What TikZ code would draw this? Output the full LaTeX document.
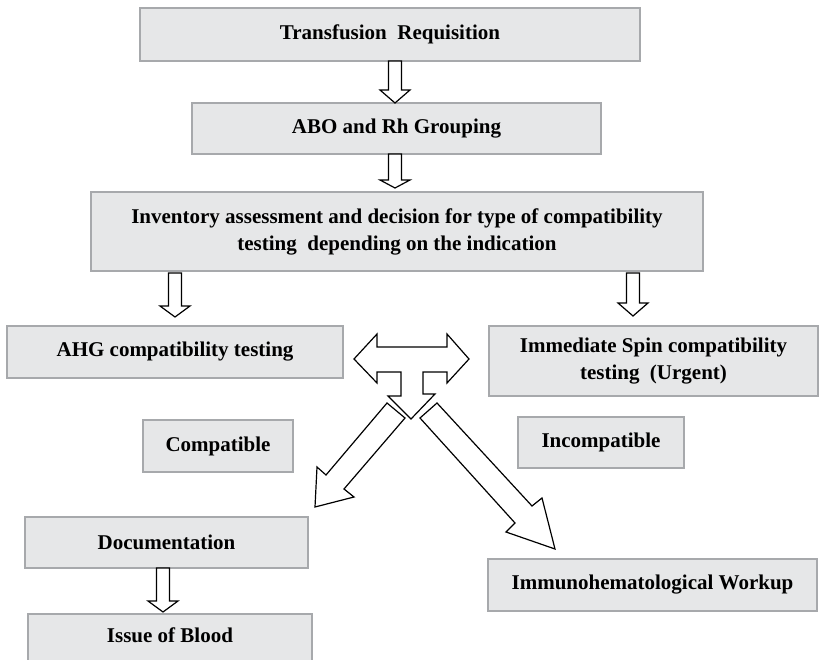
\documentclass[tikz,border=0pt]{standalone}
\usepackage{fontspec}
\setmainfont{Liberation Serif}
\tikzset{
  box/.style={draw=boxline, fill=boxfill, line width=1.5pt, inner sep=0pt, align=center,
    font=\bfseries\fontsize{21}{27}\selectfont},
  blockarrow/.style={draw=black, fill=white, line width=1.2pt, line join=miter},
}
\definecolor{boxfill}{HTML}{E6E7E8}
\definecolor{boxline}{HTML}{A7A9AC}
\newcommand\downblock[4]{% x, top, head start, tip
  \draw[blockarrow] (#1-6.5,#2) -- (#1+6.5,#2) -- (#1+6.5,#3) -- (#1+15,#3) -- (#1,#4)
    -- (#1-15,#3) -- (#1-6.5,#3) -- cycle;}
\begin{document}
\begin{tikzpicture}[x=1pt,y=-1pt]
\useasboundingbox (0,0) rectangle (819,660);
\node[box, minimum width=500, minimum height=53] (req) at (390,34.5) {Transfusion\ \ Requisition};
\node[box, minimum width=409, minimum height=51] (abo) at (396.5,128.5) {ABO and Rh Grouping};
\node[box, minimum width=612, minimum height=79] (inv) at (397,231.5)
  {Inventory assessment and decision for type of compatibility\\testing\ \ depending on the indication};
\node[box, minimum width=336, minimum height=52] (ahg) at (175,352) {AHG compatibility testing};
\node[box, minimum width=329, minimum height=70] (isp) at (653.5,361) {Immediate Spin compatibility\\testing\ \ (Urgent)};
\node[box, minimum width=150, minimum height=52] (comp) at (218,446) {Compatible};
\node[box, minimum width=166, minimum height=51] (incomp) at (601,442.5) {Incompatible};
\node[box, minimum width=283, minimum height=51] (doc) at (166.5,542.5) {Documentation};
\node[box, minimum width=329, minimum height=52] (imm) at (652.5,585) {Immunohematological Workup};
\node[box, minimum width=284, text height=29, text depth=28, anchor=north] (iss) at (170,613) {Issue of Blood};

\downblock{395}{61}{90}{103}
\downblock{395}{154}{180}{188}
\downblock{175}{273}{306}{317}
\downblock{633}{273}{303}{316}
\downblock{163}{568}{601}{612}

% central T-shaped double arrow
\draw[blockarrow] (354,359) -- (377,334) -- (377,347) -- (447,347) -- (447,334) -- (469,359)
  -- (447,383) -- (447,372) -- (423,372) -- (423,394) -- (435,394) -- (411,419)
  -- (388,396) -- (401,396) -- (401,372) -- (377,372) -- (377,383) -- cycle;
% diagonal arrows
\draw[blockarrow] (387,403) -- (326,475) -- (317,467) -- (315,507) -- (354,497) -- (344,489) -- (405,418) -- cycle;
\draw[blockarrow] (437,403) -- (420,418) -- (515,523) -- (506,532) -- (555,549) -- (542,498) -- (532,506) -- cycle;
\end{tikzpicture}
\end{document}
